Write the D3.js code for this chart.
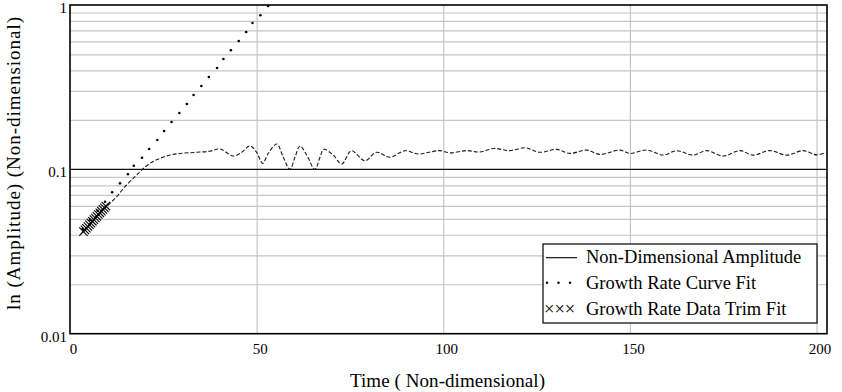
<!DOCTYPE html>
<html>
<head>
<meta charset="utf-8">
<script src="https://cdn.jsdelivr.net/npm/d3@7"></script>
<style>
    body {margin: 0; background: #fff;}
    svg {display: block;}
    text {font-family: "Liberation Serif", "Times New Roman", serif; fill: #000;}
</style>
</head>
<body>
<div id="chart"></div>
<script>
// Non-dimensional amplitude trace
const ampTime = [3.6, 5.4, 7.2, 9.8, 12.5, 14.7, 17.4, 19.2, 21.4, 24.1, 26.8, 29.5, 32, 34.8, 37.5, 40.2,
    43.7, 46, 48.2, 50, 51.6, 53.1, 55.4, 57.1, 58.9, 60.3, 61.6, 63.4, 65.6, 67, 68, 70.5, 72.8, 75.4,
    79, 82.1, 85.7, 89.7, 93.3, 96.2, 99.1, 101.8, 106.3, 109.8, 113.4, 117.9, 121.9, 125.9, 130.4, 133.9,
    138.4, 142, 147.3, 150, 154.5, 158.9, 162.5, 167, 170.5, 175, 179.5, 183, 187.5, 192, 196.4, 200, 202.5];
const ampValue = [0.0417, 0.0465, 0.052, 0.0593, 0.0681, 0.0784, 0.0902, 0.0991, 0.1088, 0.1167, 0.1223, 0.125, 0.1262, 0.1274, 0.129, 0.133,
    0.1206, 0.127, 0.1387, 0.127, 0.1088, 0.125, 0.1426, 0.119, 0.100, 0.119, 0.1387, 0.1223, 0.100, 0.119, 0.1323, 0.1223, 0.1077, 0.1298,
    0.1128, 0.127, 0.1184, 0.1298, 0.1239, 0.127, 0.130, 0.126, 0.130, 0.1274, 0.134, 0.130, 0.1353, 0.127, 0.1323, 0.125,
    0.131, 0.1233, 0.131, 0.125, 0.131, 0.1222, 0.1298, 0.122, 0.130, 0.1205, 0.130, 0.122, 0.130, 0.122, 0.130, 0.1225, 0.127];

// growth rate curve fit (dots)
const fitTime = [3.4, 5.4, 7.4, 9.4, 11.3, 13.4, 15.5, 17.1, 19.3, 21.2, 23.4, 25.2, 27.2, 29.3, 31.3, 33.1,
    35.2, 37.2, 39.4, 41.1, 43.1, 45.2, 47.2, 48.9, 51.0, 53.1];
const fitValue = [0.0434, 0.0493, 0.056, 0.0635, 0.0725, 0.0822, 0.0933, 0.1052, 0.1177, 0.1330, 0.1509, 0.1711, 0.1941, 0.2202, 0.2497, 0.2833,
    0.3214, 0.3646, 0.4136, 0.469, 0.530, 0.604, 0.685, 0.777, 0.866, 0.986];

// growth rate data trim fit (crosses)
const trimTime = [3.6, 4.0, 4.4, 4.8, 5.2, 5.6, 6.0, 6.4, 6.8, 7.2, 7.6, 8.0, 8.4, 8.8, 9.2, 9.6];
const trimValue = [0.0418, 0.0428, 0.0438, 0.0449, 0.0460, 0.0471, 0.0483, 0.0494, 0.0506, 0.0518, 0.0531, 0.0544, 0.0557, 0.0571, 0.0584, 0.0598];

const xTicks = [0, 50, 100, 150, 200];
const yTicks = [0.01, 0.1, 1];
const yTickLabels = ["0.01", "0.1", "1"];
const yMinor = [0.02, 0.03, 0.04, 0.05, 0.06, 0.07, 0.08, 0.09, 0.2, 0.3, 0.4, 0.5, 0.6, 0.7, 0.8, 0.9];
const legendLabels = ["Non-Dimensional Amplitude", "Growth Rate Curve Fit", "Growth Rate Data Trim Fit"];

const serif = '"Liberation Serif", "Times New Roman", serif';

//SVG
const width = 842;
const height = 392;
const margin = {t: 5, b: 58.3, l: 70, r: 15};
const svg = d3.select("#chart")
    .append("svg")
    .attr("width", width)
    .attr("height", height)
    .attr("viewBox", [0, 0, width, height]);

const xScale = d3.scaleLinear()
    .domain([0, 202.8])
    .range([margin.l, width - margin.r]);

const yScale = d3.scaleLog()
    .domain([0.01, 1])
    .range([height - margin.b, margin.t]);

const plotW = width - margin.l - margin.r;
const plotH = height - margin.t - margin.b;

svg.append("clipPath").attr("id", "plotClip")
    .append("rect")
    .attr("x", margin.l).attr("y", margin.t)
    .attr("width", plotW).attr("height", plotH);

//grid
const yGrid = d3.axisLeft(yScale).tickValues(yMinor).tickSize(-plotW).tickFormat("");
svg.append("g")
    .attr("transform", `translate(${margin.l}, 0)`)
    .call(yGrid)
    .call(g => g.select(".domain").remove())
    .call(g => g.selectAll("line").attr("stroke", "#c6c6c6").attr("stroke-width", 1.2));

const xGrid = d3.axisBottom(xScale).tickValues(xTicks.slice(1)).tickSize(-plotH).tickFormat("");
svg.append("g")
    .attr("transform", `translate(0, ${height - margin.b})`)
    .call(xGrid)
    .call(g => g.select(".domain").remove())
    .call(g => g.selectAll("line").attr("stroke", "#c6c6c6").attr("stroke-width", 1.2));

// major line at 0.1
svg.append("line")
    .attr("x1", margin.l).attr("x2", width - margin.r)
    .attr("y1", yScale(0.1)).attr("y2", yScale(0.1))
    .attr("stroke", "#111").attr("stroke-width", 1.4);

//tick labels
const xLab = d3.axisBottom(xScale).tickValues(xTicks).tickSize(0).tickFormat(d3.format("d"));
svg.append("g")
    .attr("transform", `translate(0, ${height - margin.b})`)
    .call(xLab)
    .call(g => g.select(".domain").remove())
    .call(g => g.selectAll("text")
        .attr("x", 3).attr("y", 20).attr("dy", null)
        .style("font-size", "15px")
        .style("font-family", serif)
        .attr("fill", "#000"));

const yLab = d3.axisLeft(yScale).tickValues(yTicks).tickSize(0)
    .tickFormat((d, i) => yTickLabels[i]);
svg.append("g")
    .attr("transform", `translate(${margin.l}, 0)`)
    .call(yLab)
    .call(g => g.select(".domain").remove())
    .call(g => g.selectAll("text")
        .attr("x", -3).attr("dy", "7.5")
        .style("font-size", "15px")
        .style("font-family", serif)
        .attr("fill", "#000"));

//axis titles
svg.append("text")
    .attr("x", 350)
    .attr("y", 387)
    .style("font-size", "19px")
    .attr("textLength", 195)
    .attr("lengthAdjust", "spacing")
    .text("Time ( Non-dimensional)");

svg.append("text")
    .attr("transform", "rotate(-90)")
    .attr("x", -310)
    .attr("y", 20)
    .style("font-size", "19px")
    .attr("textLength", 293)
    .attr("lengthAdjust", "spacing")
    .text("ln (Amplitude) (Non-dimensional)");

//data
const plot = svg.append("g").attr("clip-path", "url(#plotClip)");

const ampData = ampTime.map((t, i) => ({t: t, v: ampValue[i]}));
const makeLine = d3.line()
    .curve(d3.curveCatmullRom.alpha(0.5))
    .x(d => xScale(d.t))
    .y(d => yScale(d.v));

plot.append("path")
    .attr("fill", "none")
    .attr("stroke", "#1a1a1a")
    .attr("stroke-width", 1.1)
    .attr("stroke-dasharray", "4,2")
    .attr("d", makeLine(ampData));

plot.selectAll(".fitDot")
    .data(fitTime.map((t, i) => ({t: t, v: fitValue[i]})))
    .join("circle")
    .attr("class", "fitDot")
    .attr("cx", d => xScale(d.t))
    .attr("cy", d => yScale(d.v))
    .attr("r", 1.3)
    .attr("fill", "#000");

// x-shaped marks drawn as two strokes
const s = 4.2;
plot.selectAll(".trim")
    .data(trimTime.map((t, i) => ({t: t, v: trimValue[i]})))
    .join("path")
    .attr("class", "trim")
    .attr("transform", d => `translate(${xScale(d.t)}, ${yScale(d.v)})`)
    .attr("d", `M${-s},${-s}L${s},${s}M${-s},${s}L${s},${-s}`)
    .attr("fill", "none")
    .attr("stroke", "#000")
    .attr("stroke-width", 1.1);

//frame
svg.append("rect")
    .attr("x", margin.l).attr("y", margin.t)
    .attr("width", plotW).attr("height", plotH)
    .attr("fill", "none")
    .attr("stroke", "#000")
    .attr("stroke-width", 1.6);

//legend
const leg = {x: 543, y: 244, w: 274, h: 79};
svg.append("rect")
    .attr("x", leg.x).attr("y", leg.y)
    .attr("width", leg.w).attr("height", leg.h)
    .attr("fill", "#fff")
    .attr("stroke", "#000")
    .attr("stroke-width", 1.2);

legendLabels.forEach((lab, i) => {
    svg.append("text")
        .attr("x", leg.x + 43)
        .attr("y", leg.y + 18.5 + i * 26)
        .style("font-size", "18.5px")
        .text(lab);
});

svg.append("line")
    .attr("x1", leg.x + 3).attr("x2", leg.x + 34)
    .attr("y1", leg.y + 13.7).attr("y2", leg.y + 13.7)
    .attr("stroke", "#000").attr("stroke-width", 1.1);

svg.selectAll(".legDot")
    .data([0, 1, 2])
    .join("circle")
    .attr("class", "legDot")
    .attr("cx", d => leg.x + 4 + d * 11.5)
    .attr("cy", leg.y + 38.7)
    .attr("r", 1.2)
    .attr("fill", "#000");

svg.append("text")
    .attr("x", leg.x + 1)
    .attr("y", leg.y + 70.5)
    .style("font-size", "18.5px")
    .text("×××");
</script>
</body>
</html>
